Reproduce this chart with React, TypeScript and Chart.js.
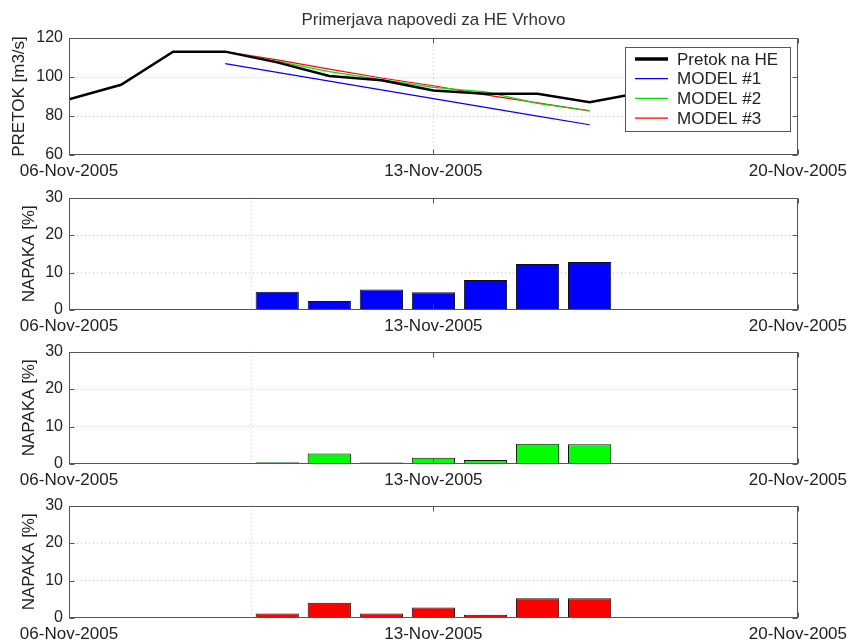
import React, { useEffect, useRef } from 'react';
import { Chart, registerables } from 'chart.js';

Chart.register(...registerables);

// ---------- data ----------
const DATES = [
  '06-Nov-2005', '07-Nov-2005', '08-Nov-2005', '09-Nov-2005', '10-Nov-2005',
  '11-Nov-2005', '12-Nov-2005', '13-Nov-2005', '14-Nov-2005', '15-Nov-2005',
  '16-Nov-2005', '17-Nov-2005', '18-Nov-2005', '19-Nov-2005', '20-Nov-2005',
];
const TICK_DATES = ['06-Nov-2005', '13-Nov-2005', '20-Nov-2005'];

const FLOW_DATES = [
  '06-Nov-2005', '07-Nov-2005', '08-Nov-2005', '09-Nov-2005', '10-Nov-2005',
  '11-Nov-2005', '12-Nov-2005', '13-Nov-2005', '14-Nov-2005', '15-Nov-2005',
  '16-Nov-2005', '17-Nov-2005', '18-Nov-2005',
];
const PRETOK = [88.6, 96.0, 113.0, 113.0, 107.5, 100.5, 98.3, 93.1, 91.4, 91.4, 87.1, 92.0, 92.5];

const MODEL_DATES = [
  '09-Nov-2005', '10-Nov-2005', '11-Nov-2005', '12-Nov-2005',
  '13-Nov-2005', '14-Nov-2005', '15-Nov-2005', '16-Nov-2005',
];
const MODEL1 = [106.9, 102.4, 97.9, 93.4, 88.9, 84.4, 79.9, 75.5];
const MODEL2 = [113.0, 108.0, 102.8, 98.7, 94.7, 92.4, 86.5, 82.7];
const MODEL3 = [113.0, 108.8, 104.0, 99.5, 95.5, 90.8, 86.7, 82.6];

const ERR_DATES = [
  '10-Nov-2005', '11-Nov-2005', '12-Nov-2005', '13-Nov-2005',
  '14-Nov-2005', '15-Nov-2005', '16-Nov-2005',
];
const ERR1 = [4.9, 2.4, 5.5, 4.75, 8.0, 12.3, 12.8];
const ERR2 = [0.5, 2.8, 0.4, 1.7, 1.1, 5.4, 5.3];
const ERR3 = [1.2, 4.1, 1.2, 2.8, 0.9, 5.3, 5.3];

const FLOW_TICKS = [60, 80, 100, 120];
const ERR_TICKS = [0, 10, 20, 30];

// ---------- helpers ----------
const FONT = "'Liberation Sans', Arial, Helvetica, sans-serif";
const TEXT = '#222';
const GRID = '#c8c8c8';

const dayIndex = (d: string) => DATES.indexOf(d);
const toPoints = (dates: string[], vals: number[]) =>
  dates.map((d, i) => ({ x: dayIndex(d), y: vals[i] }));

const gridColor = (min: number, max: number) => (c: any) => {
  const v = c.tick ? c.tick.value : null;
  return v === min || v === max ? 'rgba(0,0,0,0)' : GRID;
};

function xScale() {
  const min = 0;
  const max = DATES.length - 1;
  return {
    type: 'linear',
    min,
    max,
    offset: false,
    afterBuildTicks: (s: any) => {
      s.ticks = TICK_DATES.map((d) => ({ value: dayIndex(d) }));
    },
    afterFit: (s: any) => {
      s.height = 26;
    },
    ticks: {
      callback: (v: any) => DATES[Math.round(Number(v))],
      maxRotation: 0,
      minRotation: 0,
      autoSkip: false,
      padding: 6,
      color: TEXT,
      font: { family: FONT, size: 17 },
    },
    grid: { drawTicks: false, color: gridColor(min, max), lineWidth: 1 },
    border: { display: false, dash: [1, 3] },
  };
}

function yScale(ticks: number[], title: string, titlePad: number) {
  const min = ticks[0];
  const max = ticks[ticks.length - 1];
  return {
    type: 'linear',
    min,
    max,
    afterBuildTicks: (s: any) => {
      s.ticks = ticks.map((v) => ({ value: v }));
    },
    afterFit: (s: any) => {
      s.width = 69;
    },
    ticks: {
      padding: 6,
      color: TEXT,
      font: { family: FONT, size: 16 },
      callback: (v: any) => String(v),
    },
    grid: { drawTicks: false, color: gridColor(min, max), lineWidth: 1 },
    border: { display: false, dash: [1, 3] },
    title: {
      display: true,
      text: title,
      color: TEXT,
      font: { family: FONT, size: 17 },
      padding: { top: titlePad, bottom: 0 },
    },
  };
}

// MATLAB-like axes box with inward tick marks
const framePlugin = {
  id: 'frame',
  afterDatasetsDraw(chart: any) {
    const { ctx, chartArea: a, scales } = chart;
    const L = Math.round(a.left) + 0.5;
    const R = Math.round(a.right) - 0.5;
    const T = Math.round(a.top) + 0.5;
    const B = Math.round(a.bottom) - 0.5;
    ctx.save();
    ctx.strokeStyle = '#555';
    ctx.lineWidth = 1;
    ctx.setLineDash([]);
    ctx.strokeRect(L, T, R - L, B - T);
    ctx.beginPath();
    const tl = 5;
    scales.y.ticks.forEach((t: any) => {
      const y = Math.round(scales.y.getPixelForValue(t.value)) + 0.5;
      ctx.moveTo(L, y); ctx.lineTo(L + tl, y);
      ctx.moveTo(R, y); ctx.lineTo(R - tl, y);
    });
    scales.x.ticks.forEach((t: any) => {
      const x = Math.round(scales.x.getPixelForValue(t.value)) + 0.5;
      ctx.moveTo(x, B); ctx.lineTo(x, B - tl);
      ctx.moveTo(x, T); ctx.lineTo(x, T + tl);
    });
    ctx.stroke();
    ctx.restore();
  },
};

// Opaque legend box inside the axes (upper right), like MATLAB
const boxLegendPlugin = {
  id: 'boxLegend',
  afterDraw(chart: any) {
    const { ctx, chartArea: a } = chart;
    const w = 165;
    const h = 84;
    const left = Math.round(a.right) - 8 - w;
    const top = Math.round(a.top) + 9;
    ctx.save();
    ctx.fillStyle = '#fff';
    ctx.fillRect(left, top, w, h);
    ctx.strokeStyle = '#555';
    ctx.lineWidth = 1;
    ctx.strokeRect(left + 0.5, top + 0.5, w, h);
    ctx.font = `17px ${FONT}`;
    ctx.textBaseline = 'middle';
    ctx.textAlign = 'left';
    chart.data.datasets.forEach((ds: any, i: number) => {
      const y = top + 12 + i * 19.7;
      ctx.beginPath();
      ctx.strokeStyle = ds.borderColor;
      ctx.lineWidth = ds.legendWidth || ds.borderWidth;
      ctx.moveTo(left + 10, y);
      ctx.lineTo(left + 43, y);
      ctx.stroke();
      ctx.fillStyle = TEXT;
      ctx.fillText(ds.label, left + 52, y + 1);
    });
    ctx.restore();
  },
};

function flowConfig(): any {
  return {
    type: 'line',
    data: {
      datasets: [
        { label: 'Pretok na HE', data: toPoints(FLOW_DATES, PRETOK), borderColor: '#000', borderWidth: 2.5, legendWidth: 3.5 },
        { label: 'MODEL #1', data: toPoints(MODEL_DATES, MODEL1), borderColor: '#0000ff', borderWidth: 1.2 },
        { label: 'MODEL #2', data: toPoints(MODEL_DATES, MODEL2), borderColor: '#00e000', borderWidth: 1.2 },
        { label: 'MODEL #3', data: toPoints(MODEL_DATES, MODEL3), borderColor: '#ff0000', borderWidth: 1.2 },
      ],
    },
    options: {
      responsive: false,
      animation: false,
      devicePixelRatio: 1,
      layout: { padding: { left: 0, right: 50, top: 0, bottom: 0 } },
      elements: { point: { radius: 0 }, line: { tension: 0 } },
      scales: {
        x: xScale(),
        y: yScale(FLOW_TICKS, 'PRETOK [m3/s]', 9),
      },
      plugins: {
        legend: { display: false },
        tooltip: { enabled: false },
        title: {
          display: true,
          fullSize: false,
          text: 'Primerjava napovedi za HE Vrhovo',
          color: '#333',
          font: { family: FONT, size: 17, weight: 'normal', lineHeight: 1.2 },
          padding: { top: 10, bottom: 7.6 },
        },
      },
    },
    plugins: [framePlugin, boxLegendPlugin],
  };
}

function errConfig(vals: number[], color: string): any {
  return {
    type: 'bar',
    data: {
      datasets: [
        {
          label: 'NAPAKA',
          data: toPoints(ERR_DATES, vals),
          backgroundColor: color,
          borderColor: '#111',
          borderWidth: 1,
          barPercentage: 0.83,
          categoryPercentage: 1,
        },
      ],
    },
    options: {
      responsive: false,
      animation: false,
      devicePixelRatio: 1,
      layout: { padding: { left: 0, right: 50, top: 11, bottom: 0 } },
      scales: {
        x: xScale(),
        y: yScale(ERR_TICKS, 'NAPAKA [%]', 19),
      },
      plugins: {
        legend: { display: false },
        tooltip: { enabled: false },
      },
    },
    plugins: [framePlugin],
  };
}

function Panel({ top, height, build }: { top: number; height: number; build: () => any }) {
  const ref = useRef<HTMLCanvasElement | null>(null);
  useEffect(() => {
    if (!ref.current) return;
    const chart = new Chart(ref.current, build());
    return () => chart.destroy();
  }, []);
  return (
    <canvas
      ref={ref}
      width={853}
      height={height}
      style={{ position: 'absolute', left: 0, top, width: 853, height, display: 'block' }}
    />
  );
}

export default function App() {
  return (
    <div
      style={{
        position: 'absolute',
        left: 0,
        top: 0,
        width: 853,
        height: 640,
        overflow: 'hidden',
        background: '#fff',
      }}
    >
      <Panel top={0} height={181} build={flowConfig} />
      <Panel top={182} height={154} build={() => errConfig(ERR1, '#0000ff')} />
      <Panel top={336} height={154} build={() => errConfig(ERR2, '#00ff00')} />
      <Panel top={490} height={154} build={() => errConfig(ERR3, '#ff0000')} />
    </div>
  );
}
